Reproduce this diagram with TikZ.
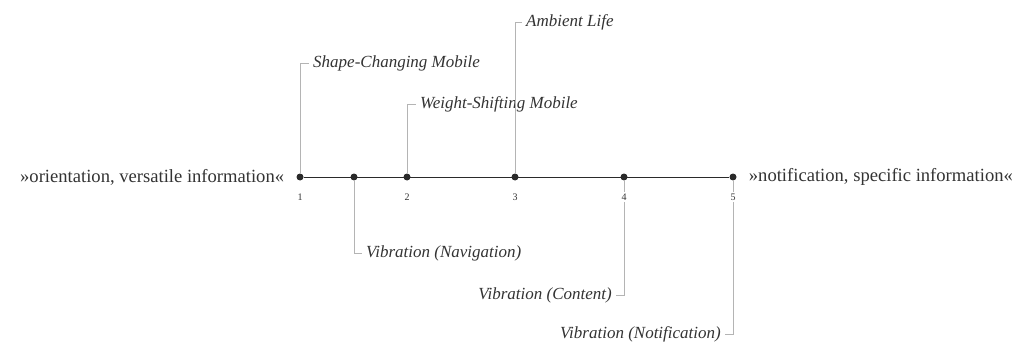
\documentclass[tikz,border=0pt]{standalone}
\usepackage{fontspec}
\setmainfont{Liberation Serif}
\usepackage{xcolor}
\definecolor{axisgray}{HTML}{2A2A2A}
\definecolor{leadgray}{HTML}{B4B4B4}
\definecolor{textgray}{HTML}{333333}
\usepackage{tikz}
\usetikzlibrary{positioning}
\tikzset{
  dot/.style={
    circle, fill=axisgray, inner sep=0pt, minimum size=7pt
  },
  axis/.style={line width=1pt, color=axisgray},
  leader/.style={line width=0.8pt, color=leadgray},
  tag/.style={
    inner sep=4pt, text=textgray,
    font=\fontsize{17}{20}\selectfont\itshape
  },
  side/.style={
    inner sep=2pt, text=textgray,
    font=\fontsize{18.6}{22}\selectfont
  },
  num/.style={
    inner sep=1.5pt, fill=white, text=textgray,
    font=\fontsize{10}{11}\selectfont
  },
}

\begin{document}
\begin{tikzpicture}[x=1pt, y=-1pt]
  \useasboundingbox (0,0) rectangle (1019,342);

  % points on the scale
  \node (p1) [dot] at (300,177) {};
  \node (p2) [dot] at (354,177) {};
  \node (p3) [dot] at (407,177) {};
  \node (p4) [dot] at (515,177) {};
  \node (p5) [dot] at (624,177) {};
  \node (p6) [dot] at (733,177) {};

  \draw [axis] (p1) -- (p6);

  % end labels
  \node (versatile) [side, left=10pt of p1]  {»orientation, versatile information«};
  \node (specific)  [side, right=10pt of p6] {»notification, specific information«};

  % concepts
  \node (shape)   [tag, anchor=west] at (309,63)  {Shape-Changing Mobile};
  \node (weight)  [tag, anchor=west] at (416,104) {Weight-Shifting Mobile};
  \node (ambient) [tag, anchor=west] at (522,22)  {Ambient Life};
  \node (navi)    [tag, anchor=west] at (362,253) {Vibration (Navigation)};
  \node (content) [tag, anchor=east] at (616,295) {Vibration (Content)};
  \node (notif)   [tag, anchor=east] at (725,334) {Vibration (Notification)};

  \draw [leader] (p1) |- (shape.west);
  \draw [leader] (p3) |- (weight.west);
  \draw [leader] (p4) |- (ambient.west);
  \draw [leader] (p2) |- (navi.west);
  \draw [leader] (p5) |- (content.east);
  \draw [leader] (p6) |- (notif.east);

  % scale numbers
  \node (n1) [num] at (300,197) {1};
  \node (n2) [num] at (407,197) {2};
  \node (n3) [num] at (515,197) {3};
  \node (n4) [num] at (624,197) {4};
  \node (n5) [num] at (733,197) {5};
\end{tikzpicture}
\end{document}
